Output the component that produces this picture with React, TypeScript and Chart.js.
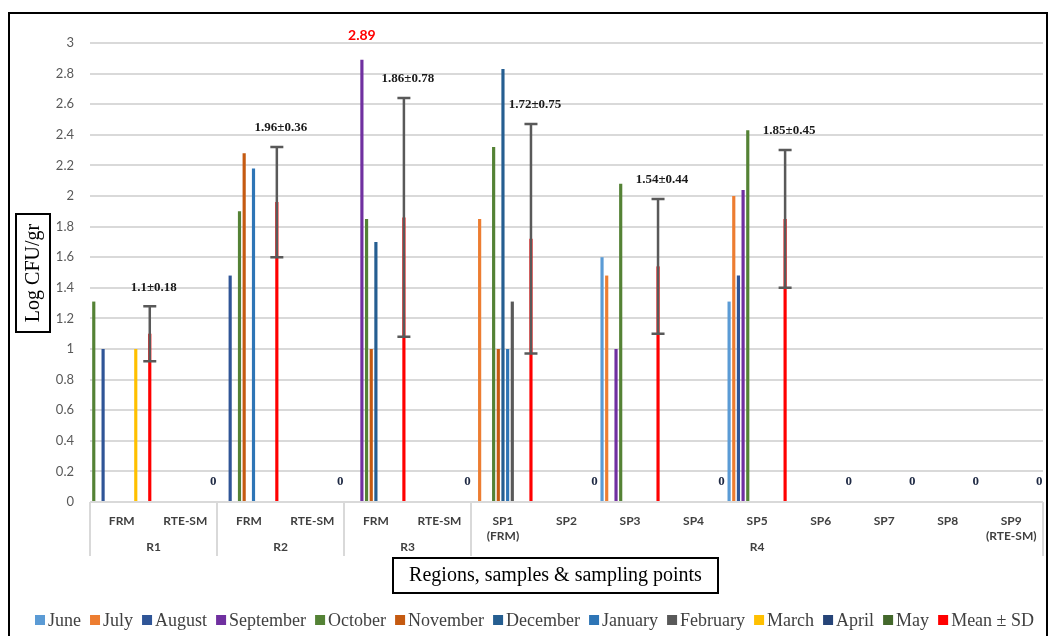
import { useEffect, useRef } from "react";
import { Chart, registerables } from "chart.js";

Chart.register(...registerables);

// ---------- DATA ----------
const categories: (string | string[])[] = [
  "FRM", "RTE-SM", "FRM", "RTE-SM", "FRM", "RTE-SM",
  ["SP1", "(FRM)"], "SP2", "SP3", "SP4", "SP5", "SP6", "SP7", "SP8", ["SP9", "(RTE-SM)"],
];
const regions = ["R1", "R2", "R3", "R4"];
const regionSpans = [2, 2, 2, 9];

const seriesNames = [
  "June", "July", "August", "September", "October", "November",
  "December", "January", "February", "March", "April", "May", "Mean ± SD",
];

const june = [1.31, null, null, null, null, null, null, null, 1.6, null, 1.31, null, null, null, null];
const july = [null, null, null, null, null, null, 1.85, null, 1.48, null, 2.0, null, null, null, null];
const august = [1.0, null, 1.48, null, null, null, null, null, null, null, 1.48, null, null, null, null];
const september = [null, null, null, null, 2.89, null, null, null, 1.0, null, 2.04, null, null, null, null];
const october = [null, null, 1.9, null, 1.85, null, 2.32, null, 2.08, null, 2.43, null, null, null, null];
const november = [null, null, 2.28, null, 1.0, null, 1.0, null, null, null, null, null, null, null, null];
const december = [null, null, null, null, 1.7, null, 2.83, null, null, null, null, null, null, null, null];
const january = [null, null, 2.18, null, null, null, 1.0, null, null, null, null, null, null, null, null];
const february = [null, null, null, null, null, null, 1.31, null, null, null, null, null, null, null, null];
const march = [1.0, null, null, null, null, null, null, null, null, null, null, null, null, null, null];
const april: (number | null)[] = [null, null, null, null, null, null, null, null, null, null, null, null, null, null, null];
const may: (number | null)[] = [null, null, null, null, null, null, null, null, null, null, null, null, null, null, null];
const meanValues = [1.1, 0, 1.96, 0, 1.86, 0, 1.72, 0, 1.54, 0, 1.85, 0, 0, 0, 0];
const meanSD = [0.18, 0, 0.36, 0, 0.78, 0, 0.75, 0, 0.44, 0, 0.45, 0, 0, 0, 0];

const yTicksMin = 0;
const yTicksMax = 3;
const yTicksStep = 0.2;

const seriesData = [
  june, july, august, september, october, november,
  december, january, february, march, april, may, meanValues,
];
const seriesColors = [
  "#5B9BD5", "#ED7D31", "#2F5597", "#7030A0", "#548235", "#C55A11",
  "#255E91", "#2E75B6", "#595959", "#FFC000", "#264478", "#43682B", "#FF0000",
];

const SERIF = '"Liberation Serif", "Times New Roman", serif';
const SANS = 'Lato, "Open Sans", sans-serif';

const annotPlugin = {
  id: "annot",
  afterDatasetsDraw(chart: any) {
    const ctx = chart.ctx as CanvasRenderingContext2D;
    const y = chart.scales.y;
    const meanMeta = chart.getDatasetMeta(12);
    ctx.save();
    meanMeta.data.forEach((bar: any, i: number) => {
      const m = meanValues[i];
      const sd = meanSD[i];
      const x = bar.x;
      if (!m) {
        ctx.fillStyle = "#1f2a44";
        ctx.font = `bold 13px ${SERIF}`;
        ctx.textAlign = "center";
        ctx.textBaseline = "middle";
        ctx.fillText("0", x, y.getPixelForValue(0) - 20);
        return;
      }
      const top = y.getPixelForValue(m + sd);
      const bot = y.getPixelForValue(m - sd);
      ctx.strokeStyle = "#595959";
      ctx.lineWidth = 2.5;
      ctx.beginPath();
      ctx.moveTo(x, top);
      ctx.lineTo(x, bot);
      ctx.moveTo(x - 6.5, top);
      ctx.lineTo(x + 6.5, top);
      ctx.moveTo(x - 6.5, bot);
      ctx.lineTo(x + 6.5, bot);
      ctx.stroke();
      ctx.fillStyle = "#1a1a1a";
      ctx.font = `bold 13px ${SERIF}`;
      ctx.textAlign = "center";
      ctx.textBaseline = "middle";
      ctx.fillText(`${m}±${sd}`, x + 4, top - 19);
    });
    // highlighted maximum
    const maxBar = chart.getDatasetMeta(3).data[4];
    ctx.fillStyle = "#FF0000";
    ctx.font = `bold 14px ${SANS}`;
    ctx.textAlign = "center";
    ctx.textBaseline = "middle";
    ctx.fillText((september[4] as number).toFixed(2), maxBar.x, maxBar.y - 24);
    ctx.restore();
  },
  afterDraw(chart: any) {
    const ctx = chart.ctx as CanvasRenderingContext2D;
    const xs = chart.scales.x;
    const area = chart.chartArea;
    const n = categories.length;
    const cw = (area.right - area.left) / n;
    ctx.save();
    // separators & region labels
    ctx.strokeStyle = "#D9D9D9";
    ctx.lineWidth = 2;
    let idx = 0;
    const bounds: number[] = [0];
    regionSpans.forEach((s) => {
      idx += s;
      bounds.push(idx);
    });
    ctx.beginPath();
    bounds.forEach((b) => {
      const px = Math.round(area.left + b * cw);
      ctx.moveTo(px, area.bottom);
      ctx.lineTo(px, area.bottom + 54);
    });
    ctx.stroke();
    ctx.fillStyle = "#404040";
    ctx.font = `bold 12px ${SANS}`;
    ctx.textAlign = "center";
    ctx.textBaseline = "middle";
    regions.forEach((r, i) => {
      const cx = area.left + ((bounds[i] + bounds[i + 1]) / 2) * cw;
      ctx.fillText(r, cx, area.bottom + 45);
    });
    void xs;

    // Y title box
    ctx.strokeStyle = "#000";
    ctx.lineWidth = 2;
    ctx.strokeRect(16, 214, 34, 118);
    ctx.save();
    ctx.translate(34, 273);
    ctx.rotate(-Math.PI / 2);
    ctx.fillStyle = "#000";
    ctx.font = `20px ${SERIF}`;
    ctx.textAlign = "center";
    ctx.textBaseline = "middle";
    ctx.fillText("Log CFU/gr", 0, 0);
    ctx.restore();

    // X title box
    ctx.strokeRect(393, 558, 325, 35);
    ctx.fillStyle = "#000";
    ctx.font = `20px ${SERIF}`;
    ctx.textAlign = "center";
    ctx.textBaseline = "middle";
    ctx.fillText("Regions, samples & sampling points", 555.5, 576);

    // Legend
    ctx.font = `18px ${SERIF}`;
    const box = 10;
    const gapBoxText = 3;
    const widths = seriesNames.map((s) => box + gapBoxText + ctx.measureText(s).width);
    const targetLeft = 35;
    const targetRight = 1034;
    const sum = widths.reduce((a, b) => a + b, 0);
    const gap = Math.max(3, (targetRight - targetLeft - sum) / (seriesNames.length - 1));
    let lx = (targetLeft + targetRight) / 2 - (sum + gap * (seriesNames.length - 1)) / 2;
    const ly = 620;
    ctx.textAlign = "left";
    ctx.textBaseline = "middle";
    seriesNames.forEach((s, i) => {
      ctx.fillStyle = seriesColors[i];
      ctx.fillRect(lx, ly - box / 2, box, box);
      ctx.fillStyle = "#404040";
      ctx.fillText(s, lx + box + gapBoxText, ly + 1);
      lx += widths[i] + gap;
    });

    // outer frame
    ctx.strokeStyle = "#000";
    ctx.lineWidth = 2;
    ctx.strokeRect(9, 13, 1038, 640);
    ctx.restore();
  },
};

export default function App() {
  const ref = useRef<HTMLCanvasElement | null>(null);
  useEffect(() => {
    const canvas = ref.current;
    if (!canvas) return;
    const datasets = seriesNames.map((name, i) => ({
      label: name,
      data: seriesData[i],
      backgroundColor:
        i === 0
          ? seriesData[i].map((_, j) => (j === 0 ? "#548235" : seriesColors[0]))
          : seriesColors[i],
      borderWidth: 0,
      categoryPercentage: 0.955,
      barPercentage: 0.68,
    }));
    const chart = new Chart(canvas, {
      type: "bar",
      data: { labels: categories as any, datasets: datasets as any },
      options: {
        responsive: false,
        animation: false,
        devicePixelRatio: 1,
        layout: { padding: { top: 43, right: 14, left: 0, bottom: 0 } },
        plugins: {
          legend: { display: false },
          tooltip: { enabled: false },
        },
        scales: {
          x: {
            grid: { display: false, drawTicks: false },
            border: { display: false },
            ticks: {
              autoSkip: false,
              maxRotation: 0,
              minRotation: 0,
              padding: 12,
              color: "#404040",
              font: { family: SANS, size: 12, weight: "bold", lineHeight: 1.25 },
            },
            afterFit: (s: any) => {
              s.height = 134;
            },
          },
          y: {
            min: yTicksMin,
            max: yTicksMax,
            grid: { color: "#D9D9D9", lineWidth: 2, drawTicks: false },
            border: { display: false },
            ticks: {
              stepSize: yTicksStep,
              padding: 16,
              color: "#595959",
              font: { family: SANS, size: 13 },
              callback: (v: any) => String(Number(Number(v).toFixed(1))),
            },
            afterFit: (s: any) => {
              s.width = 90;
            },
          },
        },
      },
      plugins: [annotPlugin],
    });
    return () => chart.destroy();
  }, []);
  return (
    <div style={{ position: "absolute", left: 0, top: 0, width: 1057, height: 636, background: "#fff" }}>
      <canvas ref={ref} width={1057} height={636} style={{ display: "block" }} />
    </div>
  );
}
